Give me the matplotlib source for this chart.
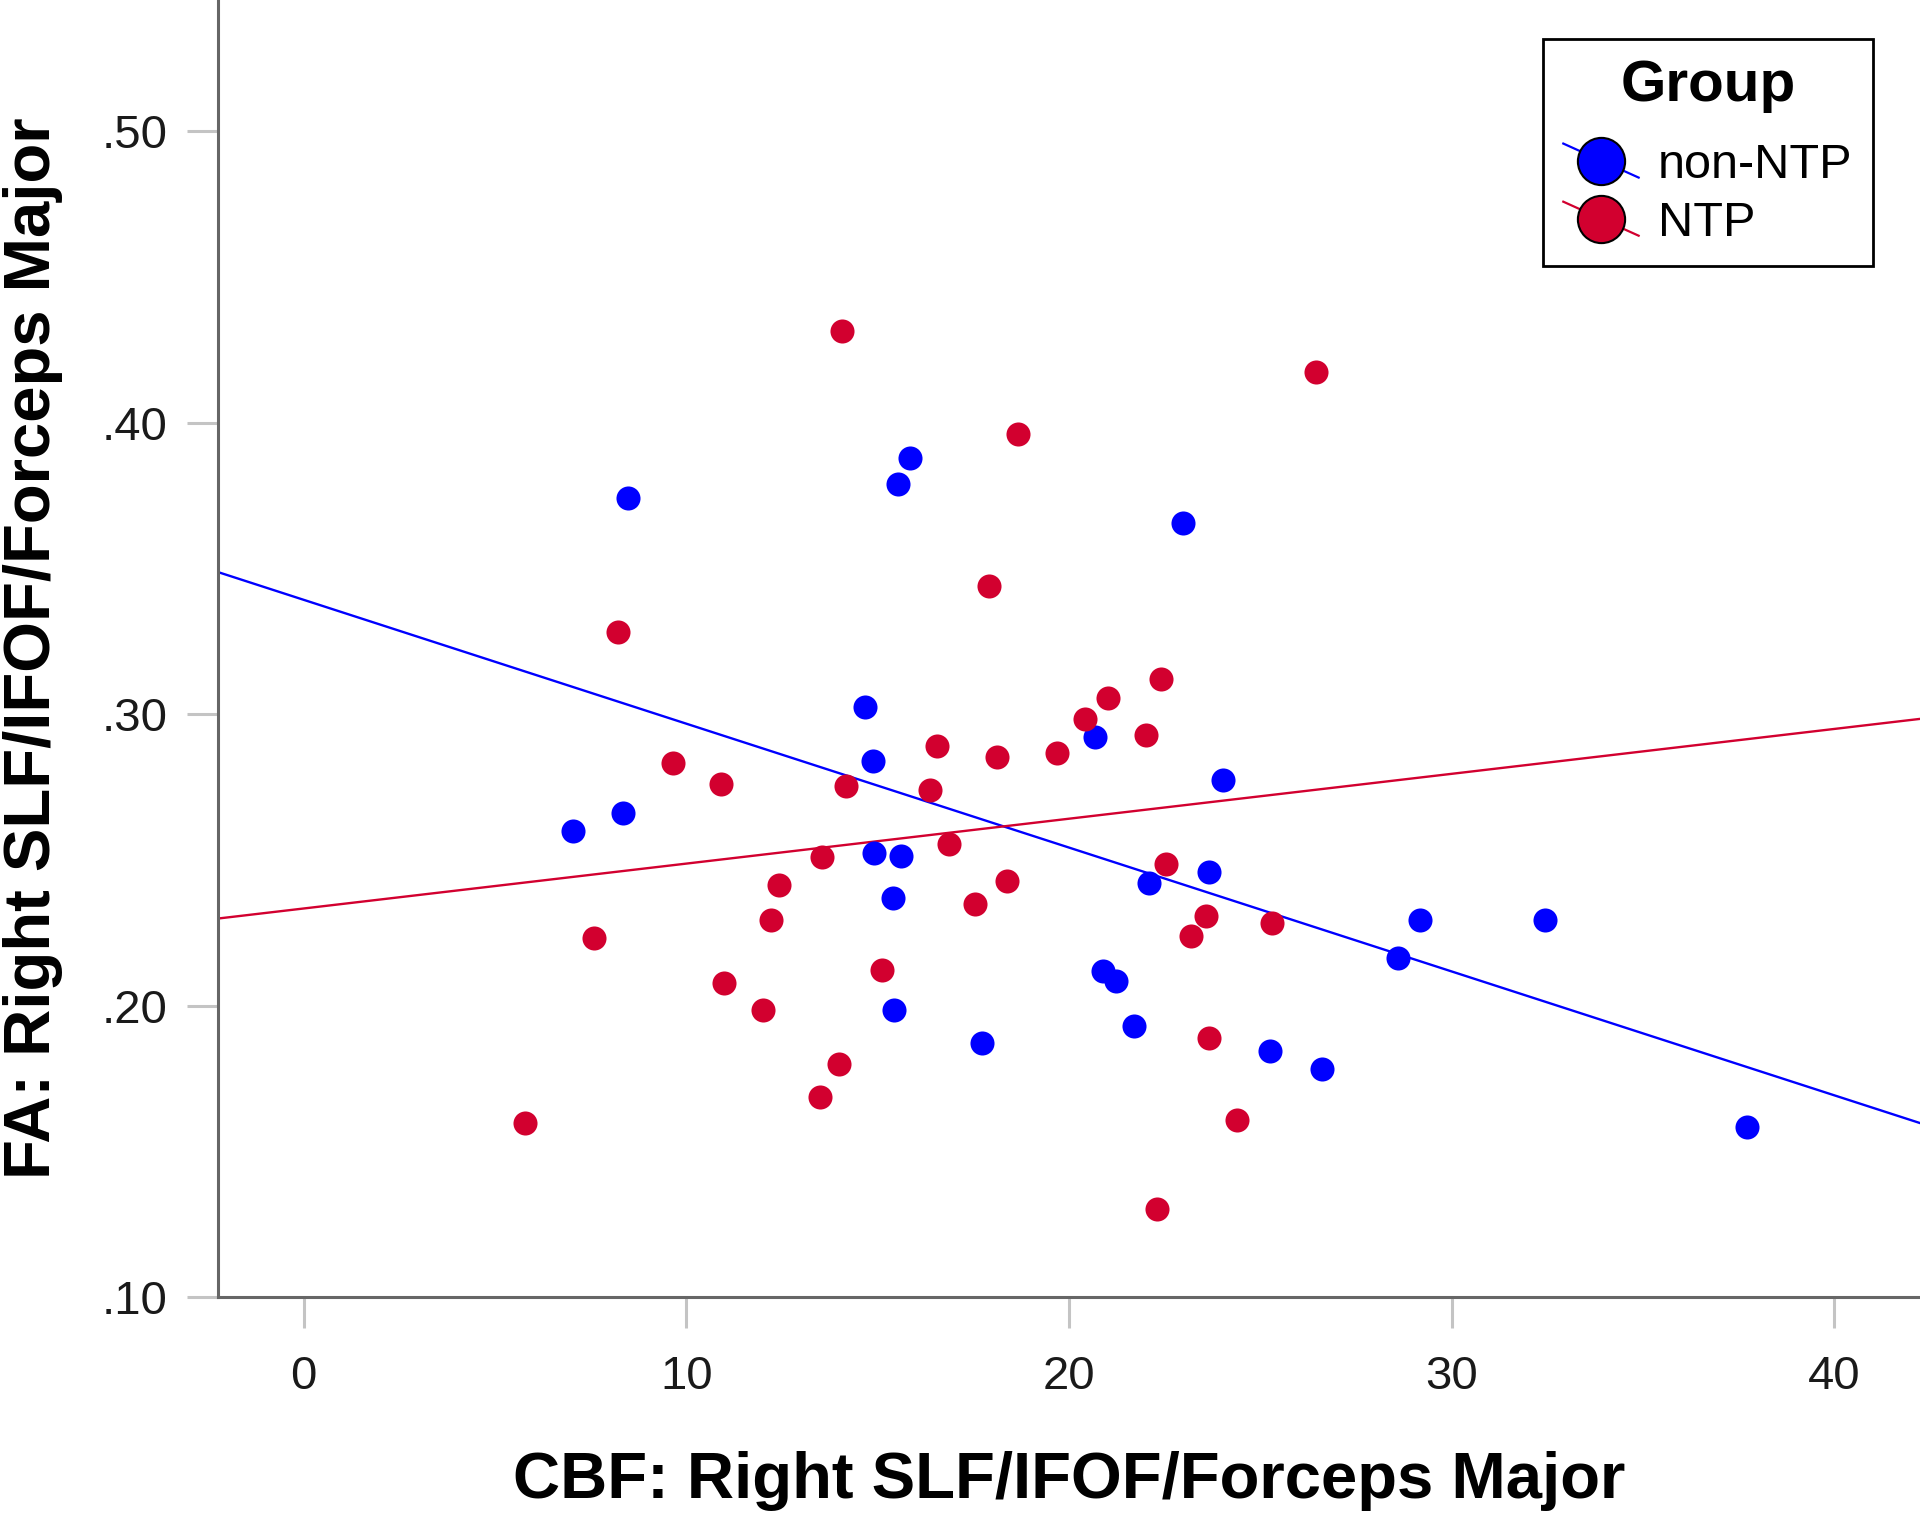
import numpy as np
import matplotlib
matplotlib.use("Agg")
import matplotlib.pyplot as plt
from matplotlib.lines import Line2D
from matplotlib.legend_handler import HandlerBase
from matplotlib.font_manager import FontProperties
from matplotlib.ticker import FuncFormatter

#%% data
cbf_non_ntp = [8.48, 15.84, 15.52, 22.98, 14.66, 20.67, 14.88, 24.03, 8.35, 7.04,
               14.91, 15.62, 23.65, 22.08, 15.39, 29.18, 32.45, 28.61, 20.90, 21.22,
               15.42, 21.70, 17.73, 25.25, 26.62, 37.73]
fa_non_ntp = [0.374, 0.388, 0.379, 0.3655, 0.3025, 0.292, 0.284, 0.2773, 0.266, 0.260,
              0.2525, 0.2513, 0.2458, 0.242, 0.237, 0.2294, 0.2294, 0.2164, 0.2118, 0.2084,
              0.1983, 0.1929, 0.187, 0.1845, 0.1782, 0.1584]

cbf_ntp = [14.08, 26.46, 18.66, 17.92, 8.22, 22.40, 21.02, 20.42, 22.02, 16.54,
           19.68, 18.11, 9.66, 10.91, 14.18, 16.38, 16.86, 13.54, 22.53, 18.37,
           12.42, 17.54, 23.58, 12.22, 25.31, 7.58, 23.20, 15.10, 10.98, 12.00,
           23.65, 13.98, 13.50, 24.38, 5.79, 22.30]
fa_ntp = [0.4315, 0.4172, 0.3962, 0.3441, 0.3282, 0.3122, 0.3055, 0.2983, 0.2929, 0.2891,
          0.2866, 0.2853, 0.2832, 0.276, 0.2752, 0.2739, 0.2555, 0.2508, 0.2487, 0.2429,
          0.2412, 0.2349, 0.2307, 0.2294, 0.2282, 0.2231, 0.224, 0.2122, 0.2076, 0.1983,
          0.189, 0.1798, 0.1685, 0.1609, 0.1597, 0.1303]

# fit lines (intercept at x=0, slope) as drawn
fit_non_ntp = (0.3392, -0.00425)
fit_ntp = (0.2333, 0.00154)

groups = ["non-NTP", "NTP"]
colors = ["#0000ff", "#d2002f"]

xticks = [0, 10, 20, 30, 40]
yticks = [0.10, 0.20, 0.30, 0.40, 0.50]

#%% plot
W, H = 1920, 1513
fig = plt.figure(figsize=(W / 100, H / 100), dpi=100)
ax = fig.add_axes([218 / W, 1 - 1297 / H, 1 - 218 / W, 1297 / H])

xs = [cbf_non_ntp, cbf_ntp]
ys = [fa_non_ntp, fa_ntp]
fits = [fit_non_ntp, fit_ntp]
for x, y, fit, c in zip(xs, ys, fits, colors):
    ax.axline((0, fit[0]), slope=fit[1], color=c, lw=1.7, zorder=2)
    ax.scatter(x, y, s=300, color=c, linewidths=0, zorder=3)

ax.set_xlim(-2.24, 42.24)
ax.set_ylim(0.10, 0.545)
ax.set_xticks(xticks)
ax.set_yticks(yticks)
ax.yaxis.set_major_formatter(FuncFormatter(lambda v, p: f"{v:.2f}".lstrip("0")))

for s in ["top", "right"]:
    ax.spines[s].set_visible(False)
for s in ["left", "bottom"]:
    ax.spines[s].set_color("#666666")
    ax.spines[s].set_linewidth(2.2)

tick_font = FontProperties(family="Liberation Sans", size=34)
ax.tick_params(length=22, width=2.2, color="#c4c4c4")
ax.tick_params(axis="x", pad=20)
ax.tick_params(axis="y", pad=14)
for lab in ax.get_xticklabels() + ax.get_yticklabels():
    lab.set_fontproperties(tick_font)
    lab.set_color("#1a1a1a")

lab_font = FontProperties(family="Liberation Sans", weight="bold", size=47)
ax.set_xlabel("CBF: Right SLF/IFOF/Forceps Major", fontproperties=lab_font, labelpad=37)
ax.set_ylabel("FA: Right SLF/IFOF/Forceps Major", fontproperties=lab_font, labelpad=28)


#%% legend with the diagonal fit-line marker
class DiagMarker(HandlerBase):
    def create_artists(self, legend, orig_handle, xdescent, ydescent,
                       width, height, fontsize, trans):
        c = orig_handle.get_markerfacecolor()
        x0, y0 = -xdescent, -ydescent
        ln = Line2D([x0, x0 + width], [y0 + height, y0], color=c, lw=1.6,
                    transform=trans)
        mk = Line2D([x0 + width / 2], [y0 + height / 2], marker="o", ms=34,
                    mfc=c, mec="black", mew=1.5, ls="none", transform=trans)
        return [ln, mk]


handles = [Line2D([], [], marker="o", ls="none", mfc=c, color=c) for c in colors]
leg = ax.legend(handles, groups, title="Group",
                handler_map={Line2D: DiagMarker()},
                loc="upper right", bbox_to_anchor=(1873 / W, 1 - 39 / H),
                bbox_transform=fig.transFigure, borderaxespad=0,
                prop=FontProperties(family="Liberation Sans", size=35),
                title_fontproperties=FontProperties(family="Liberation Sans",
                                                    weight="bold", size=42),
                frameon=True, fancybox=False, framealpha=1, edgecolor="black",
                borderpad=0.42, handlelength=1.55, handleheight=0.7,
                handletextpad=0.4, labelspacing=0.27)
leg.get_frame().set_linewidth(2)
# extra gap between the title and the entries
leg._legend_box.sep = 21

fig.savefig("out.png", dpi=100)
